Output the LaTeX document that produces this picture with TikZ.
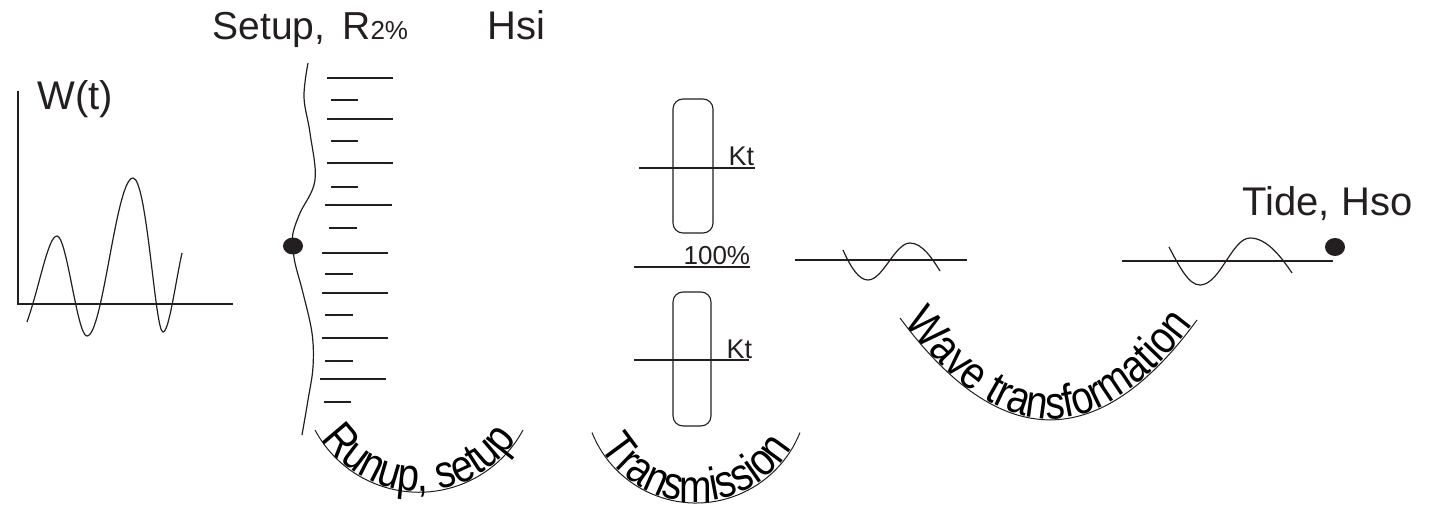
\documentclass[tikz,border=0pt]{standalone}
\usepackage{fontspec}
\setmainfont{Liberation Sans}
\newfontfamily\arcfam[FakeStretch=0.85]{Liberation Sans}
\usetikzlibrary{decorations.text}
\definecolor{ink}{RGB}{35,31,32}
\newcommand\arcfont{\arcfam\fontsize{46}{52}\selectfont}
\begin{document}
\begin{tikzpicture}[x=1pt, y=-1pt, line width=1.2pt, color=ink,
  lbl/.style={inner sep=0pt, anchor=base west, font=\fontsize{40}{48}\selectfont},
  smalllbl/.style={inner sep=0pt, anchor=base west, font=\fontsize{27}{32}\selectfont},
  longtick/.style={line width=1.1pt},
  box/.style={rounded corners=10pt, line width=1.1pt},
  arcline/.style={line width=1pt, postaction={decorate}}]
\useasboundingbox (0,0) rectangle (1430,508);

% --- water level signal W(t)
\node[lbl] (wlabel) at (37,110) {W(t)};
\draw (18,91) -- (18,304) -- (233,304);
\draw (27,322) .. controls (40,285) and (48,236) .. (57,236)
  .. controls (67,236) and (77,336) .. (87,336)
  .. controls (103,336) and (116,178) .. (133,178)
  .. controls (147,178) and (155,332) .. (163,332)
  .. controls (169,332) and (175,285) .. (182,253);

% --- labels at the top
\node[lbl, font=\fontsize{39}{48}\selectfont] (setuplabel) at (212,40)
  {Setup,\hspace{17pt}R{\fontsize{26}{30}\selectfont 2\%}};
\node[lbl] (hsilabel) at (487,40) {Hsi};

% --- beach profile with the setup point
\draw plot[smooth, tension=0.6] coordinates {(308,63) (304,97) (310,133) (315,180)
  (300,213) (293,233) (293,246) (295,263) (303,293) (312,333) (313,367) (308,400) (302,435)};
\fill (293,246) ellipse [x radius=10, y radius=8.5];

% --- runup levels
\foreach \y/\a/\b in {78/327/393, 119/327/393, 163/327/393, 205/325/392,
                      253/322/388, 293/322/388, 338/322/388, 379/320/386}
  \draw[longtick] (\a,\y) -- (\b,\y);
\foreach \y/\a/\b in {100/331/358, 141/331/358, 187/331/358, 228/329/357,
                      274/325/353, 315/325/353, 361/325/353, 402/324/351}
  \draw[longtick] (\a,\y) -- (\b,\y);

% --- curved captions
\draw[arcline,
  decoration={text along path, text align=center, raise=1pt,
    text={|\arcfont|Runup, setup}}]
  (315,430) arc[start angle=151.8, end angle=28.2, radius=118];

\draw[arcline,
  decoration={text along path, text align=center, raise=1pt,
    text={|\arcfont|Transmission}}]
  (592,432.6) arc[start angle=158.2, end angle=21.8, radius=112];

\draw[arcline,
  decoration={text along path, text align=center, raise=1pt,
    text={|\arcfont|Wave transformation}}]
  (900,318) .. controls (1000,453) and (1099,454) .. (1197,320);

% --- transmission through the structure
\draw[box] (673,99) rectangle (713,233);
\draw[longtick] (639,168) -- (755,168);
\node[smalllbl] (ktup) at (728,166) {Kt};

\draw[longtick] (634,267) -- (750,267);
\node[smalllbl, font=\fontsize{26}{30}\selectfont] (pct) at (683,264) {100\%};

\draw[box] (673,292) rectangle (711,426);
\draw[longtick] (634,360) -- (749,360);
\node[smalllbl] (ktdown) at (726,358) {Kt};

% --- offshore waves
\draw[longtick] (795,260) -- (967,260);
\draw (843,250) .. controls (851,268) and (859,280) .. (868,280)
  .. controls (883,280) and (895,243) .. (910,243)
  .. controls (922,243) and (932,258) .. (940,271);

\draw[longtick] (1122,261) -- (1333,261);
\draw (1169,247) .. controls (1180,268) and (1189,285) .. (1200,285)
  .. controls (1220,285) and (1232,238) .. (1250,238)
  .. controls (1266,238) and (1280,255) .. (1292,273);
\fill (1335,247) ellipse [x radius=10, y radius=9];
\node[lbl] (tidelabel) at (1242,215) {Tide, Hso};
\end{tikzpicture}
\end{document}
